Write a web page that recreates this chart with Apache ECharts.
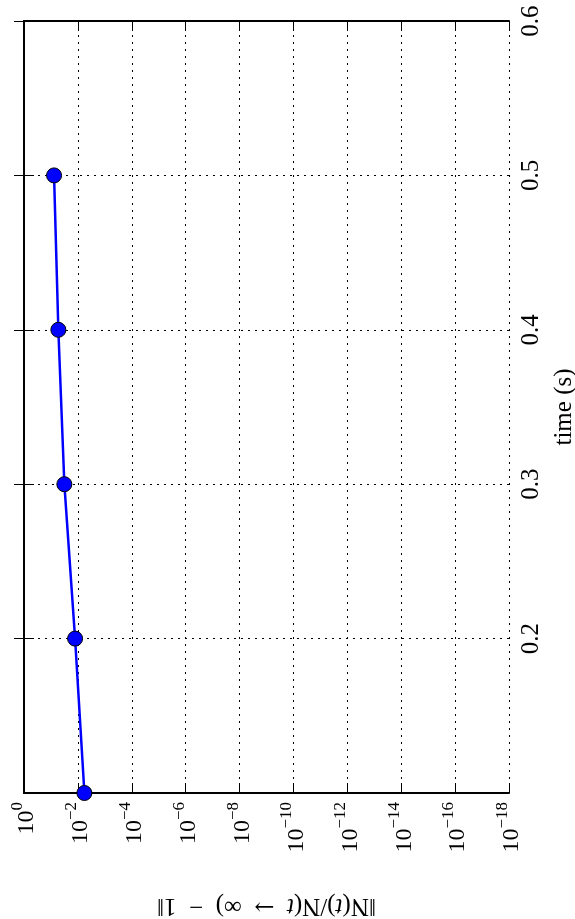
<!DOCTYPE html>
<html>
<head>
<meta charset="utf-8">
<script src="https://cdn.jsdelivr.net/npm/echarts@6/dist/echarts.min.js"></script>
<style>
  html, body { margin: 0; padding: 0; background: #fff; }
  #chart { width: 575px; height: 919px; }
</style>
</head>
<body>
<div id="chart"></div>
<script>
// time (s) on the vertical axis, error norm on the (log) horizontal axis
const times = [0.1, 0.2, 0.3, 0.4, 0.5]
const errors = [0.00573, 0.0127, 0.0318, 0.0531, 0.0767]
const timeTicks = [0.2, 0.3, 0.4, 0.5, 0.6]
const decadeTicks = [0, -2, -4, -6, -8, -10, -12, -14, -16, -18]

const serif = '"Liberation Serif", "DejaVu Serif", serif'

const points = times.map((t, i) => [Math.log10(errors[i]), t])

function expLabel(v) {
  if (decadeTicks.indexOf(v) < 0) return ''
  const e = v === 0 ? '0' : '\u2212' + (-v)
  return '{b|10}{s|' + e + '}'
}

const tick = { inside: true, length: 10, lineStyle: { color: '#000', width: 1 } }
const spine = { lineStyle: { color: '#000', width: 2 } }
const dotted = { show: true, lineStyle: { color: '#000', type: [2, 5], width: 1 } }

const chart = echarts.init(document.getElementById('chart'))
chart.setOption({
  animation: false,
  grid: { left: 24, right: 66, top: 21, bottom: 126, outerBoundsMode: 'none' },
  xAxis: [
    {
      type: 'value',
      position: 'bottom',
      min: -18,
      max: 0,
      interval: 2,
      inverse: true,
      axisLine: spine,
      axisTick: tick,
      splitLine: dotted,
      axisLabel: {
        rotate: 90,
        margin: 9,
        color: '#000',
        formatter: expLabel,
        rich: {
          b: { fontFamily: serif, fontSize: 24, lineHeight: 30, verticalAlign: 'bottom', color: '#000' },
          s: { fontFamily: serif, fontSize: 17, lineHeight: 18, verticalAlign: 'top', color: '#000' },
        },
      },
      name: '‖N({i|t})/N({i|t}  {a|→}  ∞)  −  1‖',
      nameLocation: 'middle',
      nameRotate: 180,
      nameGap: 100,
      nameTextStyle: {
        fontFamily: serif,
        fontSize: 25,
        color: '#000',
        rich: {
          i: { fontFamily: serif, fontSize: 25, fontStyle: 'italic', color: '#000' },
          a: { fontFamily: '"DejaVu Serif", serif', fontSize: 24, color: '#000' },
        },
      },
    },
    {
      type: 'value',
      position: 'top',
      min: -18,
      max: 0,
      interval: 2,
      inverse: true,
      axisLine: spine,
      axisTick: tick,
      splitLine: { show: false },
      axisLabel: { show: false },
    },
  ],
  yAxis: [
    {
      type: 'value',
      position: 'right',
      min: 0.1,
      max: 0.6,
      interval: 0.1,
      axisLine: spine,
      axisTick: tick,
      splitLine: dotted,
      axisLabel: {
        rotate: 90,
        margin: 10,
        color: '#000',
        fontFamily: serif,
        fontSize: 25,
        showMinLabel: false,
        formatter: v => (timeTicks.some(t => Math.abs(t - v) < 1e-9) ? v.toFixed(1) : ''),
      },
      name: 'time (s)',
      nameLocation: 'middle',
      nameRotate: 90,
      nameGap: 37,
      nameTextStyle: { fontFamily: serif, fontSize: 25, color: '#000' },
    },
    {
      type: 'value',
      position: 'left',
      min: 0.1,
      max: 0.6,
      interval: 0.1,
      axisLine: spine,
      axisTick: tick,
      splitLine: { show: false },
      axisLabel: { show: false },
    },
  ],
  series: [
    {
      type: 'line',
      xAxisIndex: 0,
      yAxisIndex: 0,
      data: points,
      symbol: 'circle',
      symbolSize: 15,
      lineStyle: { color: '#0000ff', width: 2.5 },
      itemStyle: { color: '#0000ff', borderColor: '#000', borderWidth: 1 },
      z: 3,
    },
  ],
})
</script>
</body>
</html>
